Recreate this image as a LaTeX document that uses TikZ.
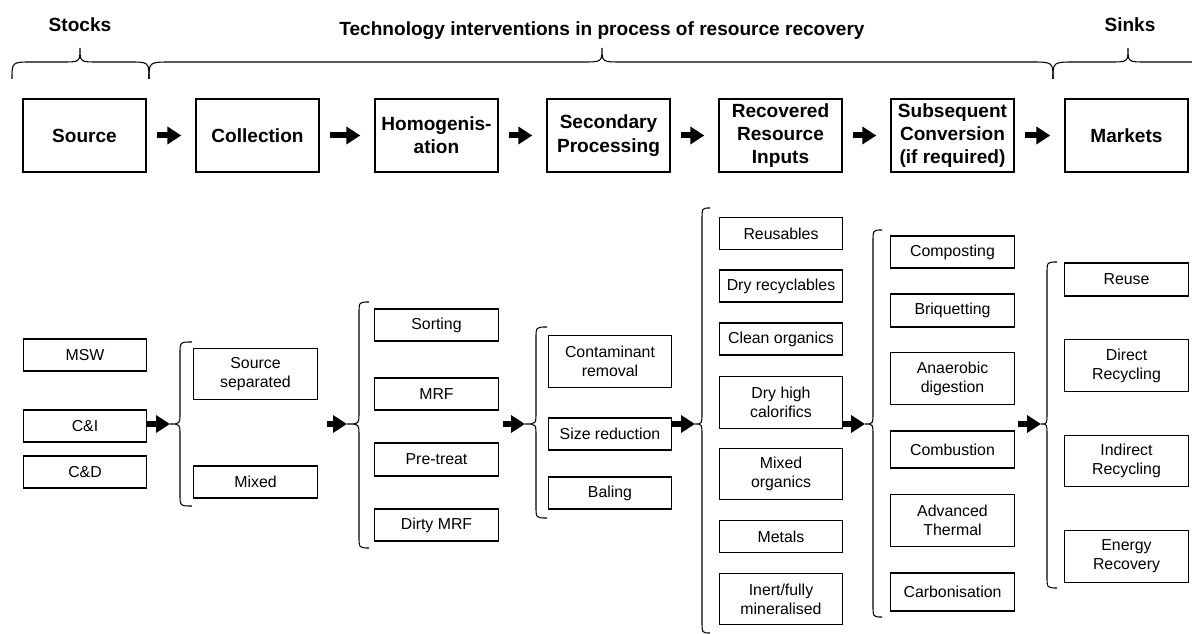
\documentclass[tikz,border=0pt]{standalone}
\usepackage{fontspec}
\setmainfont{Liberation Sans}
\usetikzlibrary{arrows.meta}
\newcommand\vbr[6]{%
  \draw[brc] (#3,#4) .. controls (#2,#4) .. (#2,#4+12) -- (#2,#5-12) .. controls (#2,#5) .. (#1,#5) .. controls (#2,#5) .. (#2,#5+12) -- (#2,#6-12) .. controls (#2,#6) .. (#3,#6);}
\begin{document}
\begin{tikzpicture}[x=0.75pt,y=-0.75pt,
  top/.style={draw, line width=1pt, minimum width=92.25pt, minimum height=54.75pt, align=center, inner sep=0pt,
    font=\bfseries\fontsize{14.3}{17.5}\selectfont},
  bx/.style={draw, line width=0.9pt, minimum width=92.6pt, align=center, inner sep=0pt,
    font=\fontsize{11.9}{14.3}\selectfont},
  h1/.style={minimum height=24pt},
  h2/.style={minimum height=38.5pt},
  ttl/.style={font=\bfseries\fontsize{14.3}{17.5}\selectfont, anchor=base, inner sep=0pt},
  brc/.style={line width=0.8pt},
  blk/.style={line width=4.5pt, -{Triangle[length=10.5pt,width=12.75pt]}}]
\clip (0,0) rectangle (1192,634);
\useasboundingbox (0,0) rectangle (1192,634);
% titles
\node[ttl] (stocks) at (80,32) {Stocks};
\node[ttl] (tech) at (602,36) {Technology interventions in process of resource recovery};
\node[ttl] (sinks) at (1130,32) {Sinks};
% top braces
\draw[brc] (12,79) .. controls (12,62) .. (32,62) -- (62,62) .. controls (80,62) .. (80,48) .. controls (80,62) .. (98,62) -- (129,62) .. controls (149,62) .. (149,79);
\draw[brc] (149,79) .. controls (149,62) .. (172,62) -- (582,62) .. controls (602,62) .. (602,48) .. controls (602,62) .. (622,62) -- (1030,62) .. controls (1053,62) .. (1053,79);
\draw[brc] (1053,79) .. controls (1053,62) .. (1075,62) -- (1110,62) .. controls (1128,62) .. (1128,48) .. controls (1128,62) .. (1146,62) -- (1200,62);
% top row
\node[top] (src) at (84.5,135.5) {Source};
\node[top] (col) at (257.5,135.5) {Collection};
\node[top] (hom) at (436.5,135.5) {Homogenis-\\ation};
\node[top] (sec) at (608.5,135.5) {Secondary\\Processing};
\node[top] (rec) at (780.5,135.5) {Recovered\\Resource\\Inputs};
\node[top] (sub) at (952.5,135.5) {Subsequent\\Conversion\\(if required)};
\node[top] (mkt) at (1126.5,135.5) {Markets};
\foreach \a/\b in {src/col,col/hom,hom/sec,sec/rec,rec/sub,sub/mkt}
  \draw[blk, shorten <=7.5pt, shorten >=10.5pt] (\a) -- (\b);
% column 1
\node[bx,h1] (msw) at (85,355) {MSW};
\node[bx,h1] (ci) at (85,426) {C\&I};
\node[bx,h1] (cd) at (85,472) {C\&D};
% column 2
\node[bx,h2] (ss) at (255.5,374) {Source\\separated};
\node[bx,h1] (mix) at (255.5,482) {Mixed};
% column 3
\node[bx,h1] (sort) at (436.5,325) {Sorting};
\node[bx,h1] (mrf) at (436.5,394) {MRF};
\node[bx,h1,minimum height=24.75pt] (pre) at (436.5,459.5) {Pre-treat};
\node[bx,h1] (dmrf) at (436.5,525) {Dirty MRF};
% column 4
\node[bx,h2] (cont) at (610,361.5) {Contaminant\\removal};
\node[bx,h1] (size) at (610,434) {Size reduction};
\node[bx,h1] (bal) at (610,493) {Baling};
% column 5
\node[bx,h1] (reus) at (781,233.5) {Reusables};
\node[bx,h1] (dry) at (781,286) {Dry recyclables};
\node[bx,h1] (clean) at (781,339) {Clean organics};
\node[bx,h2] (dhc) at (781,402.5) {Dry high\\calorifics};
\node[bx,h2] (mixo) at (781,474) {Mixed\\organics};
\node[bx,h1] (met) at (781,536.5) {Metals};
\node[bx,h2] (inert) at (781,599) {Inert/fully\\mineralised};
% column 6
\node[bx,h1] (comp) at (952.5,252) {Composting};
\node[bx,h1,minimum height=24.75pt] (briq) at (952.5,310.5) {Briquetting};
\node[bx,h2] (anae) at (952.5,378.5) {Anaerobic\\digestion};
\node[bx,minimum height=27.75pt] (comb) at (952.5,449.5) {Combustion};
\node[bx,h2] (adv) at (952.5,520.5) {Advanced\\Thermal};
\node[bx,minimum height=28.5pt] (carb) at (952.5,592) {Carbonisation};
% column 7
\node[bx,h1,minimum height=24.75pt] (reuse) at (1126.5,279.5) {Reuse};
\node[bx,h2] (dir) at (1126.5,365.5) {Direct\\Recycling};
\node[bx,h2] (ind) at (1126.5,461) {Indirect\\Recycling};
\node[bx,h2] (ener) at (1126.5,556.5) {Energy\\Recovery};
% brace tips
\coordinate (t1) at (170,424);
\coordinate (t2) at (347,424);
\coordinate (t3) at (525,424);
\coordinate (t4) at (695,424);
\coordinate (t5) at (865,424);
\coordinate (t6) at (1041,424);
% braces
\vbr{170}{180}{192}{342}{424}{506}
\vbr{347}{359}{369}{302}{424}{548}
\vbr{525}{536}{547}{327}{424}{518}
\vbr{695}{702}{710}{208}{424}{633}
\vbr{865}{873}{882}{230}{424}{617}
\vbr{1041}{1047}{1057}{262}{424}{588}
% arrows
\draw[blk] (ci.east |- t1) -- (t1);
\draw[blk, shorten <=6.75pt] (ss.east |- t2) -- (t2);
\draw[blk, shorten <=3pt] (mrf.east |- t3) -- (t3);
\draw[blk] (size.east |- t4) -- (t4);
\draw[blk] (dhc.east |- t5) -- (t5);
\draw[blk, shorten <=2.25pt] (comb.east |- t6) -- (t6);
\end{tikzpicture}
\end{document}
